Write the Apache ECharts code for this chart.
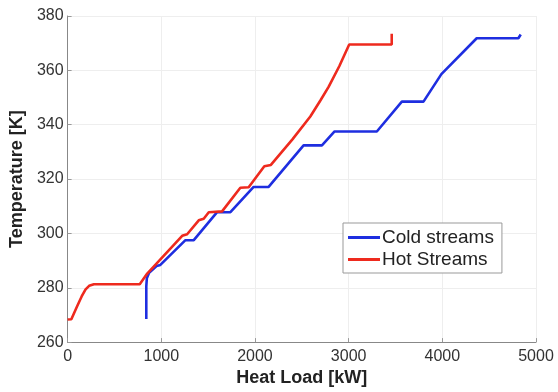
<!DOCTYPE html>
<html><head><meta charset="utf-8">
<script src="https://cdn.jsdelivr.net/npm/echarts@6/dist/echarts.min.js"></script>
<style>html,body{margin:0;padding:0;background:#fff}#c{width:558px;height:392px}</style>
</head><body><div id="c"></div>
<script>
const hotX = [0, 40, 103, 150, 192, 230, 281, 770, 850, 1223, 1276, 1400, 1453, 1507, 1649, 1844, 1933, 2100, 2170, 2400, 2591, 2700, 2786, 2900, 3006, 3460, 3460];
const hotT = [268.3, 268.4, 273.3, 276.8, 279.4, 280.7, 281.3, 281.3, 285.2, 299.1, 299.7, 304.8, 305.4, 307.8, 308.1, 316.8, 317.0, 324.7, 325.2, 334.6, 343.0, 349.0, 353.9, 361.5, 369.5, 369.5, 373.5];
const coldX = [840, 840, 846, 870, 950, 990, 1258, 1347, 1596, 1738, 1986, 2146, 2519, 2715, 2850, 3301, 3568, 3799, 3990, 4367, 4812, 4837];
const coldT = [268.5, 280.5, 283.5, 285.5, 288.0, 288.4, 297.5, 297.5, 307.8, 307.8, 317.1, 317.1, 332.4, 332.4, 337.5, 337.5, 348.5, 348.5, 358.6, 371.8, 371.8, 373.2];
const xTicks = {min: 0, max: 5000, interval: 1000};
const yTicks = {min: 260, max: 380, interval: 20};
const seriesNames = ['Cold streams', 'Hot Streams'];

const pair = (xs, ys) => xs.map((x, i) => [x, ys[i]]);
const chart = echarts.init(document.getElementById('c'));
const FONT = 'Liberation Sans';
const axisCommon = {
  axisLine: {show: true, lineStyle: {color: '#888', width: 1}},
  axisTick: {show: true, inside: true, length: 4, lineStyle: {color: '#999'}},
  splitLine: {show: true, lineStyle: {color: '#eee', width: 1}},
  nameTextStyle: {color: '#222', fontSize: 18, fontWeight: 'bold', fontFamily: FONT}
};
const labelStyle = {color: '#333', fontSize: 16, fontFamily: FONT, formatter: v => String(v)};
chart.setOption({
  animation: false,
  grid: {left: 67, right: 22, top: 16, bottom: 45, containLabel: false},
  xAxis: Object.assign({type: 'value', name: 'Heat Load [kW]', nameLocation: 'middle', nameGap: 24}, xTicks, axisCommon,
    {axisLabel: Object.assign({}, labelStyle, {margin: 6})}),
  yAxis: Object.assign({type: 'value', name: 'Temperature [K]', nameLocation: 'middle', nameGap: 40}, yTicks, axisCommon,
    {axisLabel: Object.assign({}, labelStyle, {margin: 4})}),
  legend: {
    orient: 'vertical', left: 343, top: 223,
    backgroundColor: '#fff', borderColor: '#999', borderWidth: 1,
    padding: [5, 8, 4, 5], itemGap: 3,
    icon: 'rect', itemWidth: 32, itemHeight: 3,
    textStyle: {color: '#222', fontSize: 19, fontFamily: FONT, padding: [0, 0, 0, -3]},
    data: seriesNames
  },
  series: [
    {name: seriesNames[0], type: 'line', data: pair(coldX, coldT), showSymbol: false, symbol: 'none',
     lineStyle: {color: '#1e2ee0', width: 2.6}, itemStyle: {color: '#1e2ee0'}},
    {name: seriesNames[1], type: 'line', data: pair(hotX, hotT), showSymbol: false, symbol: 'none',
     lineStyle: {color: '#ee2a1e', width: 2.6}, itemStyle: {color: '#ee2a1e'}}
  ]
});
</script></body></html>
